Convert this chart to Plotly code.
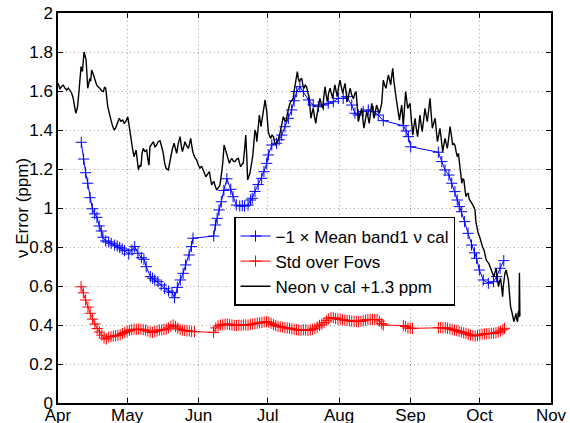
import pandas as pd
import plotly.graph_objects as go

# Day offsets are counted from 1 April 2012.
START = pd.Timestamp("2012-04-01")

# -1 x mean band1 frequency calibration (ppm)
band1_days = [10.1, 11.1, 12.0, 12.9, 13.9, 14.9, 15.9, 16.9, 17.9, 18.8, 19.5, 20.7, 22.0, 23.1,
              24.6, 25.7, 26.8, 27.9, 28.9, 30.7, 32.1, 33.3, 34.7, 36.2, 37.3, 38.3, 40.1, 41.0,
              42.0, 43.4, 44.8, 46.3, 48.0, 49.5, 50.6, 51.8, 53.1, 54.3, 55.4, 56.9, 57.9, 58.6,
              67.6, 68.3, 69.1, 69.9, 70.9, 72.0, 73.3, 75.0, 76.0, 77.4, 78.9, 80.0, 81.0, 82.5,
              83.6, 84.3, 85.5, 86.9, 88.4, 89.4, 90.6, 91.3, 92.8, 94.9, 96.0, 97.1, 98.5, 100.0,
              101.4, 102.5, 103.6, 105.0, 106.5, 108.7, 110.8, 113.0, 115.2, 117.3, 119.5, 121.7,
              123.8, 125.3, 127.5, 128.9, 130.3, 132.5, 134.7, 136.9, 139.0, 141.2, 149.9, 151.1,
              152.1, 153.1, 165.1, 166.6, 168.0, 169.7, 170.9, 172.3, 173.3, 174.2, 175.2, 176.5,
              178.0, 179.5, 180.8, 181.7, 182.9, 184.6, 186.8, 189.0, 190.4, 191.9, 193.5]
band1_vals = [1.337, 1.251, 1.181, 1.127, 1.053, 0.996, 0.970, 0.952, 0.908, 0.882, 0.850, 0.831,
              0.826, 0.819, 0.810, 0.805, 0.798, 0.790, 0.781, 0.764, 0.785, 0.802, 0.768, 0.745,
              0.737, 0.699, 0.648, 0.640, 0.631, 0.622, 0.605, 0.588, 0.574, 0.566, 0.540, 0.593,
              0.631, 0.665, 0.708, 0.759, 0.802, 0.845, 0.856, 0.913, 0.947, 0.990, 1.032, 1.090,
              1.150, 1.096, 1.058, 1.015, 1.010, 1.012, 1.010, 1.015, 1.041, 1.050, 1.085, 1.120,
              1.152, 1.186, 1.229, 1.272, 1.323, 1.332, 1.350, 1.374, 1.417, 1.460, 1.503, 1.550,
              1.597, 1.622, 1.597, 1.554, 1.528, 1.520, 1.528, 1.537, 1.545, 1.562, 1.562, 1.571,
              1.528, 1.486, 1.477, 1.494, 1.503, 1.494, 1.477, 1.448, 1.422, 1.395, 1.366, 1.314,
              1.286, 1.238, 1.195, 1.169, 1.127, 1.084, 1.041, 1.007, 0.981, 0.930, 0.870, 0.810,
              0.770, 0.742, 0.682, 0.631, 0.614, 0.622, 0.648, 0.691, 0.730]

# Standard deviation over FOVs (ppm)
std_days = [10, 11, 12, 13, 14, 15, 16, 17, 18, 19, 20, 21, 22, 23, 24, 25, 26, 27, 28, 29, 30,
            31, 32, 33, 34, 35, 36, 37, 38, 39, 40, 41, 42, 43, 44, 45, 46, 47, 48, 49, 50, 51,
            52, 53, 54, 55, 56, 57, 58, 59.3,
            67.5, 68.5, 69.5, 70.5, 71.5, 72.5, 73.5, 74.5, 75.5, 76.5, 77.5, 78.5, 79.5, 80.5,
            81.5, 82.5, 83.5, 84.5, 85.5, 86.5, 87.5, 88.5, 89.5, 90.5, 91.5, 92.5, 93.5, 94.5,
            95.5, 96.5, 97.5, 98.5, 99.5, 100.5, 101.5, 102.5, 103.5, 104.5, 105.5, 106.5, 107.5,
            108.5, 109.5, 110.5, 111.5, 112.5, 113.5, 114.5, 115.5, 116.5, 117.5, 118.5, 119.5,
            120.5, 121.5, 122.5, 123.5, 124.5, 125.5, 126.5, 127.5, 128.5, 129.5, 130.5, 131.5,
            132.5, 133.5, 134.5, 135.5, 136.5, 137.5, 138.5, 139.5, 140.5, 141.2,
            149.9, 150.9, 151.9, 152.9, 153.9,
            165.1, 166.1, 167.1, 168.1, 169.1, 170.1, 171.1, 172.1, 173.1, 174.1, 175.1, 176.1,
            177.1, 178.1, 179.1, 180.1, 181.1, 182.1, 183.1, 184.1, 185.1, 186.1, 187.1, 188.1,
            189.1, 190.1, 191.1, 192.1, 193.1, 193.8]
std_vals = [0.596, 0.565, 0.528, 0.492, 0.460, 0.430, 0.405, 0.382, 0.364, 0.348, 0.333, 0.328,
            0.338, 0.341, 0.343, 0.345, 0.347, 0.350, 0.356, 0.362, 0.367, 0.372, 0.376, 0.378,
            0.377, 0.379, 0.378, 0.376, 0.374, 0.369, 0.364, 0.362, 0.366, 0.370, 0.374, 0.375,
            0.377, 0.379, 0.385, 0.394, 0.400, 0.393, 0.384, 0.378, 0.374, 0.372, 0.370, 0.369,
            0.367, 0.366,
            0.362, 0.385, 0.395, 0.399, 0.402, 0.404, 0.405, 0.402, 0.400, 0.398, 0.397, 0.399,
            0.398, 0.401, 0.400, 0.399, 0.403, 0.405, 0.407, 0.409, 0.411, 0.413, 0.416, 0.417,
            0.414, 0.409, 0.402, 0.397, 0.393, 0.391, 0.389, 0.386, 0.385, 0.383, 0.380, 0.378,
            0.376, 0.374, 0.373, 0.375, 0.374, 0.373, 0.374, 0.378, 0.383, 0.390, 0.398, 0.405,
            0.412, 0.422, 0.432, 0.439, 0.437, 0.433, 0.430, 0.429, 0.427, 0.425, 0.423, 0.422,
            0.420, 0.419, 0.418, 0.417, 0.419, 0.422, 0.425, 0.428, 0.429, 0.428, 0.429, 0.428,
            0.420, 0.408, 0.400,
            0.397, 0.392, 0.385, 0.383, 0.383,
            0.386, 0.387, 0.385, 0.386, 0.383, 0.380, 0.377, 0.374, 0.371, 0.367, 0.364, 0.360,
            0.357, 0.352, 0.348, 0.345, 0.344, 0.347, 0.350, 0.353, 0.354, 0.355, 0.356, 0.357,
            0.358, 0.360, 0.364, 0.369, 0.376, 0.383]

# Neon frequency calibration offset by +1.3 ppm
neon_days = [0.0, 0.9, 1.6, 2.3, 3.0, 3.8, 4.5, 5.2, 5.9, 6.6, 7.2, 7.7, 8.1, 8.5, 9.2, 10.0, 10.6,
             11.3, 12.2, 12.9, 13.4, 13.8, 14.2, 14.6, 15.2, 15.8, 16.3, 16.8, 17.5, 18.2, 19.0,
             19.7, 20.2, 20.7, 21.6, 22.3, 23.0, 23.7, 24.4, 25.0, 25.5, 26.0, 26.6, 27.3, 28.1,
             28.7, 29.4, 30.3, 31.0, 31.7, 32.4, 33.0, 33.9, 34.4, 34.9, 35.5, 36.0, 36.5, 37.0,
             37.7, 38.5, 39.0, 39.5, 39.9, 40.7, 41.4, 42.1, 42.8, 43.5, 44.3, 45.0, 45.7, 46.3,
             46.9, 47.9, 48.4, 48.9, 49.6, 50.4, 51.0, 51.5, 52.2, 53.0, 53.5, 54.0, 54.5, 55.1,
             55.8, 56.6, 57.1, 57.6, 58.2, 58.7, 59.4, 60.2, 60.9, 61.6, 62.3, 63.1, 63.6, 64.2,
             65.0, 65.7, 66.2, 66.7, 67.2, 67.7, 68.3, 68.9, 69.6, 70.3, 70.9, 71.5, 72.1, 72.6,
             73.2, 73.8, 74.4, 74.9, 75.4, 76.1, 76.8, 77.5, 78.3, 78.8, 79.3, 79.9, 80.4, 81.0,
             81.5, 82.0, 82.3, 82.8, 83.3, 83.9, 84.5, 85.0, 85.5, 86.0, 86.3, 86.8, 87.4, 88.1,
             88.6, 89.1, 89.9, 90.6, 91.3, 91.8, 92.3, 92.9, 93.5, 94.0, 94.6, 95.1, 95.6, 96.2,
             96.7, 97.3, 97.8, 98.4, 99.0, 99.5, 100.0, 100.5, 101.0, 101.6, 102.1, 102.5, 102.9,
             103.4, 103.9, 104.3, 104.7, 105.3, 105.8, 106.3, 106.8, 107.3, 107.9, 108.5, 109.1,
             109.5, 109.8, 110.3, 110.8, 111.3, 111.9, 112.3, 112.7, 113.2, 113.7, 114.3, 114.9,
             115.4, 115.9, 116.4, 116.9, 117.5, 118.1, 118.6, 119.2, 119.7, 120.2, 120.7, 121.2,
             121.8, 122.4, 123.0, 123.6, 124.1, 124.6, 125.1, 125.6, 126.2, 126.8, 127.5, 128.2,
             128.8, 129.4, 129.9, 130.4, 131.1, 131.8, 132.3, 132.8, 133.4, 134.0, 134.6, 135.1,
             135.7, 136.2, 136.7, 137.2, 137.8, 138.3, 138.9, 139.5, 140.0, 140.5, 140.9, 141.2,
             141.8, 142.4, 142.9, 143.4, 143.9, 144.4, 144.9, 145.3, 145.8, 146.3, 147.0, 147.6,
             148.2, 148.7, 149.2, 149.9, 150.4, 150.9, 151.4, 151.8, 152.3, 152.8, 153.4, 154.0,
             154.5, 155.0, 155.5, 156.1, 156.6, 157.1, 157.6, 158.1, 158.7, 159.3, 159.8, 160.3,
             160.9, 161.5, 162.0, 162.5, 163.1, 163.7, 164.2, 164.7, 165.3, 165.8, 166.4, 167.0,
             167.5, 168.0, 168.5, 169.0, 169.6, 170.2, 170.8, 171.3, 171.8, 172.3, 172.8, 173.3,
             173.8, 174.3, 174.8, 175.3, 175.7, 176.2, 176.7, 177.1, 177.4, 178.0, 178.5, 179.0,
             179.6, 180.1, 180.6, 181.0, 181.4, 181.9, 182.4, 183.0, 183.5, 183.9, 184.3, 184.9,
             185.4, 185.9, 186.4, 187.0, 187.5, 188.1, 188.7, 189.2, 189.7, 190.2, 190.7, 191.2,
             191.6, 192.1, 192.6, 193.0, 193.3, 193.7, 194.0, 194.5, 195.0, 195.5, 195.9, 196.2,
             196.5, 197.0, 197.4, 197.9, 198.4, 198.8, 199.1, 199.5, 199.8, 200.1, 200.3, 200.5,
             200.6]
neon_vals = [1.640, 1.610, 1.625, 1.630, 1.615, 1.605, 1.615, 1.605, 1.590, 1.563, 1.520, 1.486,
             1.500, 1.520, 1.610, 1.725, 1.700, 1.800, 1.760, 1.614, 1.640, 1.665, 1.650, 1.708,
             1.690, 1.665, 1.640, 1.630, 1.620, 1.614, 1.600, 1.597, 1.620, 1.614, 1.520, 1.480,
             1.451, 1.420, 1.400, 1.410, 1.426, 1.450, 1.460, 1.445, 1.451, 1.435, 1.443, 1.468,
             1.400, 1.357, 1.300, 1.263, 1.297, 1.240, 1.195, 1.220, 1.212, 1.280, 1.306, 1.290,
             1.297, 1.250, 1.220, 1.314, 1.332, 1.340, 1.314, 1.323, 1.340, 1.345, 1.314, 1.280,
             1.230, 1.204, 1.195, 1.230, 1.246, 1.300, 1.332, 1.300, 1.280, 1.330, 1.366, 1.320,
             1.289, 1.310, 1.340, 1.320, 1.306, 1.330, 1.357, 1.310, 1.280, 1.260, 1.246, 1.220,
             1.204, 1.215, 1.195, 1.180, 1.160, 1.175, 1.186, 1.150, 1.118, 1.130, 1.135, 1.110,
             1.092, 1.105, 1.118, 1.170, 1.229, 1.323, 1.300, 1.280, 1.250, 1.229, 1.245, 1.255,
             1.240, 1.238, 1.250, 1.255, 1.230, 1.212, 1.225, 1.229, 1.300, 1.374, 1.250, 1.144,
             1.160, 1.178, 1.220, 1.263, 1.330, 1.400, 1.380, 1.340, 1.400, 1.477, 1.417, 1.460,
             1.486, 1.554, 1.494, 1.391, 1.370, 1.357, 1.375, 1.366, 1.340, 1.323, 1.340, 1.349,
             1.375, 1.400, 1.440, 1.468, 1.450, 1.443, 1.480, 1.511, 1.530, 1.545, 1.555, 1.562,
             1.600, 1.631, 1.670, 1.699, 1.665, 1.648, 1.660, 1.665, 1.630, 1.614, 1.630, 1.622,
             1.590, 1.562, 1.500, 1.460, 1.490, 1.511, 1.470, 1.434, 1.470, 1.494, 1.530, 1.562,
             1.530, 1.511, 1.570, 1.622, 1.580, 1.545, 1.590, 1.614, 1.590, 1.562, 1.600, 1.631,
             1.600, 1.571, 1.620, 1.656, 1.620, 1.588, 1.615, 1.639, 1.590, 1.545, 1.580, 1.614,
             1.580, 1.560, 1.585, 1.597, 1.520, 1.443, 1.480, 1.511, 1.460, 1.409, 1.450, 1.494,
             1.465, 1.434, 1.490, 1.537, 1.500, 1.460, 1.495, 1.528, 1.505, 1.486, 1.510, 1.537,
             1.600, 1.656, 1.630, 1.614, 1.650, 1.682, 1.660, 1.631, 1.680, 1.716, 1.650, 1.597,
             1.545, 1.500, 1.451, 1.490, 1.528, 1.426, 1.520, 1.597, 1.550, 1.511, 1.525, 1.537,
             1.450, 1.374, 1.420, 1.460, 1.410, 1.366, 1.420, 1.477, 1.430, 1.391, 1.450, 1.511,
             1.475, 1.443, 1.500, 1.562, 1.480, 1.409, 1.435, 1.460, 1.400, 1.340, 1.375, 1.409,
             1.350, 1.289, 1.325, 1.357, 1.330, 1.306, 1.360, 1.417, 1.370, 1.323, 1.330, 1.323,
             1.290, 1.263, 1.280, 1.229, 1.170, 1.127, 1.150, 1.144, 1.090, 1.058, 1.070, 1.075,
             1.045, 1.032, 1.025, 1.015, 1.000, 0.990, 0.930, 0.887, 0.870, 0.853, 0.830, 0.810,
             0.800, 0.785, 0.760, 0.733, 0.725, 0.716, 0.700, 0.682, 0.665, 0.648, 0.670, 0.691,
             0.640, 0.596, 0.620, 0.640, 0.590, 0.545, 0.600, 0.648, 0.665, 0.682, 0.655, 0.631,
             0.570, 0.519, 0.490, 0.468, 0.440, 0.417, 0.440, 0.460, 0.430, 0.417, 0.470, 0.440,
             0.668, 0.445]

# Axis labelling
month_start = "2012-04-01"
month_end = "2012-11-01"
y_ticks = [0, 0.2, 0.4, 0.6, 0.8, 1, 1.2, 1.4, 1.6, 1.8, 2]
y_title = "ν Error (ppm)"
series_names = ["−1 × Mean band1 ν cal", "Std over Fovs", "Neon ν cal +1.3 ppm"]


def to_dates(days):
    return START + pd.to_timedelta(days, unit="D")


FONT = "Liberation Sans, Arial, Helvetica, sans-serif"
FS = 17

fig = go.Figure()
fig.add_trace(go.Scatter(
    x=to_dates(band1_days), y=band1_vals, name=series_names[0], mode="lines+markers",
    line=dict(color="#0000ff", width=1),
    marker=dict(symbol="cross-thin", size=8, line=dict(width=1, color="#0000ff")),
))
fig.add_trace(go.Scatter(
    x=to_dates(std_days), y=std_vals, name=series_names[1], mode="lines+markers",
    line=dict(color="#ff0000", width=1),
    marker=dict(symbol="cross-thin", size=8, line=dict(width=1, color="#ff0000")),
))
fig.add_trace(go.Scatter(
    x=to_dates(neon_days), y=neon_vals, name=series_names[2], mode="lines",
    line=dict(color="#000000", width=1.4),
))

axis_common = dict(
    showline=True, linecolor="black", linewidth=1.5, mirror="allticks",
    ticks="inside", ticklen=5, tickwidth=1, tickcolor="black",
    showgrid=True, gridcolor="#a8a8a8", gridwidth=1, griddash="1px,3px",
    zeroline=False, automargin=False,
    tickfont=dict(size=FS, color="black", family=FONT),
)

fig.update_layout(
    width=570, height=423,
    margin=dict(l=58, r=19, t=13, b=20, autoexpand=False),
    paper_bgcolor="white", plot_bgcolor="white",
    font=dict(family=FONT, size=FS, color="black"),
    showlegend=True,
    legend=dict(
        x=0.357, y=0.477, xanchor="left", yanchor="top",
        bgcolor="white", bordercolor="black", borderwidth=1.5,
        font=dict(size=FS, family=FONT, color="black"),
        tracegroupgap=0, itemwidth=30,
        entrywidth=195, entrywidthmode="pixels",
    ),
    xaxis=dict(
        type="date", range=[month_start, month_end], dtick="M1", tickformat="%b",
        tick0=month_start, ticklabelstandoff=-4, **axis_common,
    ),
    yaxis=dict(range=[0, 2], tickvals=y_ticks, **axis_common),
    annotations=[dict(
        text=y_title, xref="paper", yref="paper", x=-0.073, y=0.5,
        xanchor="center", yanchor="middle", textangle=-90, showarrow=False,
        font=dict(size=FS, family=FONT, color="black"),
    )],
)

fig.write_html("out.html")
